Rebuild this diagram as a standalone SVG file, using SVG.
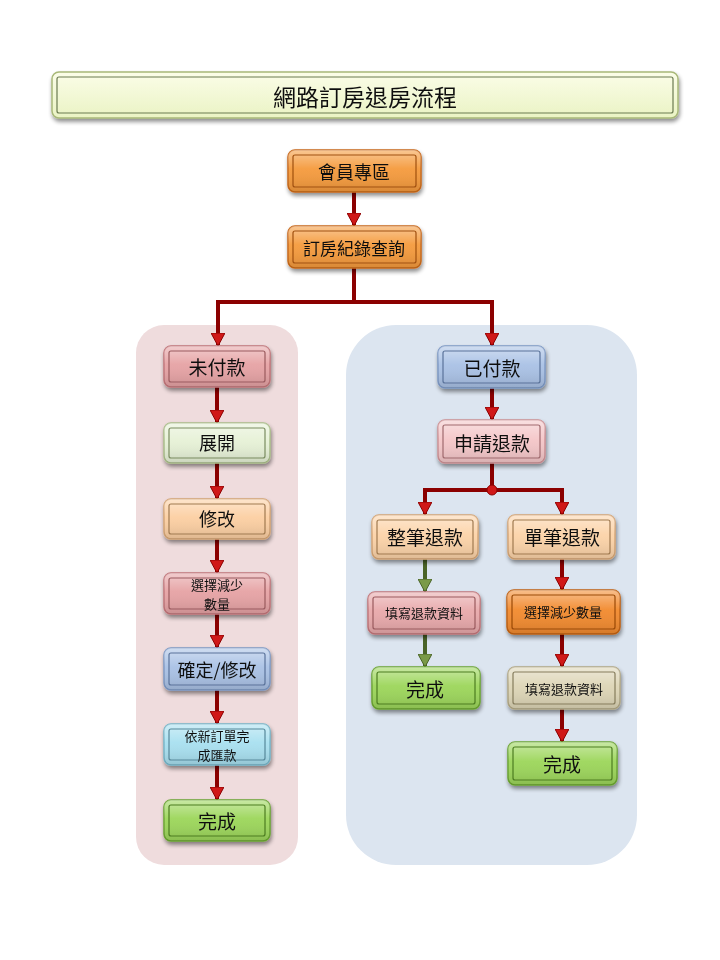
<svg xmlns="http://www.w3.org/2000/svg" width="720" height="960" viewBox="0 0 720 960">
<defs>
<filter id="sh" x="-20%" y="-20%" width="140%" height="150%">
<feGaussianBlur in="SourceAlpha" stdDeviation="2"/>
<feOffset dx="1" dy="3" result="b"/>
<feComponentTransfer><feFuncA type="linear" slope="0.45"/></feComponentTransfer>
<feMerge><feMergeNode/><feMergeNode in="SourceGraphic"/></feMerge>
</filter>
<linearGradient id="shine" x1="0" y1="0" x2="0" y2="1">
<stop offset="0" stop-color="#fff" stop-opacity="0.45"/>
<stop offset="0.45" stop-color="#fff" stop-opacity="0.05"/>
<stop offset="1" stop-color="#000" stop-opacity="0.12"/>
</linearGradient>
<linearGradient id="titleg" x1="0" y1="0" x2="0" y2="1">
<stop offset="0" stop-color="#fbfde8"/>
<stop offset="1" stop-color="#eaf3c4"/>
</linearGradient>
<marker id="ar" markerUnits="userSpaceOnUse" markerWidth="14" markerHeight="14" refX="12" refY="7" orient="auto">
<path d="M0,0 L13,7 L0,14 z" fill="#d01818" stroke="#8b0000" stroke-width="1"/>
</marker>
<marker id="ag" markerUnits="userSpaceOnUse" markerWidth="14" markerHeight="14" refX="12" refY="7" orient="auto">
<path d="M0,0 L13,7 L0,14 z" fill="#7a9a48" stroke="#4a6428" stroke-width="1"/>
</marker>
</defs>
<style>
text{font-family:"Noto Sans CJK TC","Noto Sans CJK SC",sans-serif;fill:#111;text-anchor:middle;dominant-baseline:central}
.b{stroke-width:1.5}
.i{fill:none;stroke-width:1.2}
.sh{fill:url(#shine)}
.cr{fill:none;stroke:#8b0000;stroke-width:4}
.cg{fill:none;stroke:#4a6428;stroke-width:4}
</style>
<rect width="720" height="960" fill="#fff"/>

<g id="title" filter="url(#sh)">
<rect x="52" y="72" width="626" height="46" rx="7" fill="url(#titleg)" stroke="#a8b878" stroke-width="1.5"/>
<rect x="57" y="77" width="616" height="36" rx="2" fill="none" stroke="#6a7a50" stroke-width="1.2"/>
<text x="365" y="96" font-size="23">網路訂房退房流程</text>
</g>

<g id="panels">
<rect x="136" y="325" width="162" height="540" rx="28" fill="#efdcdd"/>
<rect x="346" y="325" width="291" height="540" rx="50" fill="#dce5f0"/>
</g>

<g id="connectors">
<path class="cr" d="M354 192 V225" marker-end="url(#ar)"/>
<path class="cr" d="M354 268 V302 H218 V345" marker-end="url(#ar)"/>
<path class="cr" d="M354 302 H492 V345" marker-end="url(#ar)"/>
<path class="cr" d="M217 387 V422" marker-end="url(#ar)"/>
<path class="cr" d="M217 463 V498" marker-end="url(#ar)"/>
<path class="cr" d="M217 539 V572" marker-end="url(#ar)"/>
<path class="cr" d="M217 614 V647" marker-end="url(#ar)"/>
<path class="cr" d="M217 690 V723" marker-end="url(#ar)"/>
<path class="cr" d="M217 765 V799" marker-end="url(#ar)"/>
<path class="cr" d="M492 388 V419" marker-end="url(#ar)"/>
<path class="cr" d="M492 463 V490"/>
<path class="cr" d="M492 490 H425 V514" marker-end="url(#ar)"/>
<path class="cr" d="M492 490 H562 V514" marker-end="url(#ar)"/>
<circle cx="492" cy="490" r="5" fill="#d01818" stroke="#8b0000" stroke-width="1"/>
<path class="cg" d="M425 559 V591" marker-end="url(#ag)"/>
<path class="cg" d="M425 634 V666" marker-end="url(#ag)"/>
<path class="cr" d="M562 559 V589" marker-end="url(#ar)"/>
<path class="cr" d="M562 634 V666" marker-end="url(#ar)"/>
<path class="cr" d="M562 709 V741" marker-end="url(#ar)"/>
</g>

<g id="n-member" filter="url(#sh)">
<rect class="b" x="288" y="150" width="133" height="42" rx="7" fill="#f59a3c" stroke="#c86818"/>
<rect class="sh" x="288" y="150" width="133" height="42" rx="7"/>
<rect class="i" x="293" y="155" width="123" height="32" rx="2" stroke="#a05010"/>
<text x="354" y="171" font-size="18">會員專區</text>
</g>
<g id="n-query" filter="url(#sh)">
<rect class="b" x="288" y="226" width="133" height="42" rx="7" fill="#f59a3c" stroke="#c86818"/>
<rect class="sh" x="288" y="226" width="133" height="42" rx="7"/>
<rect class="i" x="293" y="231" width="123" height="32" rx="2" stroke="#a05010"/>
<text x="354" y="247" font-size="17">訂房紀錄查詢</text>
</g>

<g id="n-unpaid" filter="url(#sh)">
<rect class="b" x="164" y="346" width="106" height="41" rx="7" fill="#e6a2a4" stroke="#c07478"/>
<rect class="sh" x="164" y="346" width="106" height="41" rx="7"/>
<rect class="i" x="169" y="351" width="96" height="31" rx="2" stroke="#9a5a5e"/>
<text x="217" y="366" font-size="19">未付款</text>
</g>
<g id="n-expand" filter="url(#sh)">
<rect class="b" x="164" y="423" width="106" height="40" rx="7" fill="#e6f1d6" stroke="#a8bc88"/>
<rect class="sh" x="164" y="423" width="106" height="40" rx="7"/>
<rect class="i" x="169" y="428" width="96" height="30" rx="2" stroke="#7a8c60"/>
<text x="217" y="442" font-size="18">展開</text>
</g>
<g id="n-modify" filter="url(#sh)">
<rect class="b" x="164" y="499" width="106" height="40" rx="7" fill="#fccfa2" stroke="#d4a474"/>
<rect class="sh" x="164" y="499" width="106" height="40" rx="7"/>
<rect class="i" x="169" y="504" width="96" height="30" rx="2" stroke="#a07a50"/>
<text x="217" y="518" font-size="18">修改</text>
</g>
<g id="n-reduce" filter="url(#sh)">
<rect class="b" x="164" y="573" width="106" height="41" rx="7" fill="#e6a2a4" stroke="#c07478"/>
<rect class="sh" x="164" y="573" width="106" height="41" rx="7"/>
<rect class="i" x="169" y="578" width="96" height="31" rx="2" stroke="#9a5a5e"/>
<text x="217" y="584" font-size="13">選擇減少</text>
<text x="217" y="603" font-size="13">數量</text>
</g>
<g id="n-confirm" filter="url(#sh)">
<rect class="b" x="164" y="648" width="106" height="42" rx="7" fill="#a9c1e5" stroke="#7c98c4"/>
<rect class="sh" x="164" y="648" width="106" height="42" rx="7"/>
<rect class="i" x="169" y="653" width="96" height="32" rx="2" stroke="#5a729a"/>
<text x="217" y="669" font-size="18">確定/修改</text>
</g>
<g id="n-remit" filter="url(#sh)">
<rect class="b" x="164" y="724" width="106" height="41" rx="7" fill="#a8e0f0" stroke="#74b4c8"/>
<rect class="sh" x="164" y="724" width="106" height="41" rx="7"/>
<rect class="i" x="169" y="729" width="96" height="31" rx="2" stroke="#56889a"/>
<text x="217" y="735" font-size="13">依新訂單完</text>
<text x="217" y="754" font-size="13">成匯款</text>
</g>
<g id="n-done1" filter="url(#sh)">
<rect class="b" x="164" y="800" width="106" height="41" rx="7" fill="#9cd65a" stroke="#6aa430"/>
<rect class="sh" x="164" y="800" width="106" height="41" rx="7"/>
<rect class="i" x="169" y="805" width="96" height="31" rx="2" stroke="#4c7c20"/>
<text x="217" y="820" font-size="19">完成</text>
</g>

<g id="n-paid" filter="url(#sh)">
<rect class="b" x="438" y="346" width="107" height="42" rx="7" fill="#a9c1e5" stroke="#7c98c4"/>
<rect class="sh" x="438" y="346" width="107" height="42" rx="7"/>
<rect class="i" x="443" y="351" width="97" height="32" rx="2" stroke="#5a729a"/>
<text x="492" y="367" font-size="19">已付款</text>
</g>
<g id="n-apply" filter="url(#sh)">
<rect class="b" x="438" y="420" width="107" height="43" rx="7" fill="#f4c6c8" stroke="#cc9094"/>
<rect class="sh" x="438" y="420" width="107" height="43" rx="7"/>
<rect class="i" x="443" y="425" width="97" height="33" rx="2" stroke="#a06a6e"/>
<text x="492" y="442" font-size="19">申請退款</text>
</g>
<g id="n-full" filter="url(#sh)">
<rect class="b" x="372" y="515" width="106" height="44" rx="7" fill="#fcd3a8" stroke="#d4a474"/>
<rect class="sh" x="372" y="515" width="106" height="44" rx="7"/>
<rect class="i" x="377" y="520" width="96" height="34" rx="2" stroke="#a07a50"/>
<text x="425" y="536" font-size="19">整筆退款</text>
</g>
<g id="n-single" filter="url(#sh)">
<rect class="b" x="508" y="515" width="107" height="44" rx="7" fill="#fcd3a8" stroke="#d4a474"/>
<rect class="sh" x="508" y="515" width="107" height="44" rx="7"/>
<rect class="i" x="513" y="520" width="97" height="34" rx="2" stroke="#a07a50"/>
<text x="562" y="536" font-size="19">單筆退款</text>
</g>
<g id="n-fill1" filter="url(#sh)">
<rect class="b" x="368" y="592" width="112" height="42" rx="7" fill="#e8a8aa" stroke="#c07478"/>
<rect class="sh" x="368" y="592" width="112" height="42" rx="7"/>
<rect class="i" x="373" y="597" width="102" height="32" rx="2" stroke="#9a5a5e"/>
<text x="424" y="612" font-size="13">填寫退款資料</text>
</g>
<g id="n-reduce2" filter="url(#sh)">
<rect class="b" x="507" y="590" width="113" height="44" rx="7" fill="#f28a2e" stroke="#c06010"/>
<rect class="sh" x="507" y="590" width="113" height="44" rx="7"/>
<rect class="i" x="512" y="595" width="103" height="34" rx="2" stroke="#9a4a08"/>
<text x="563" y="611" font-size="13">選擇減少數量</text>
</g>
<g id="n-done2" filter="url(#sh)">
<rect class="b" x="372" y="667" width="108" height="42" rx="7" fill="#9cd65a" stroke="#6aa430"/>
<rect class="sh" x="372" y="667" width="108" height="42" rx="7"/>
<rect class="i" x="377" y="672" width="98" height="32" rx="2" stroke="#4c7c20"/>
<text x="425" y="688" font-size="19">完成</text>
</g>
<g id="n-fill2" filter="url(#sh)">
<rect class="b" x="508" y="667" width="112" height="42" rx="7" fill="#ddd5b6" stroke="#b0a684"/>
<rect class="sh" x="508" y="667" width="112" height="42" rx="7"/>
<rect class="i" x="513" y="672" width="102" height="32" rx="2" stroke="#857c5c"/>
<text x="564" y="688" font-size="13">填寫退款資料</text>
</g>
<g id="n-done3" filter="url(#sh)">
<rect class="b" x="508" y="742" width="109" height="43" rx="7" fill="#9cd65a" stroke="#6aa430"/>
<rect class="sh" x="508" y="742" width="109" height="43" rx="7"/>
<rect class="i" x="513" y="747" width="99" height="33" rx="2" stroke="#4c7c20"/>
<text x="562" y="763" font-size="19">完成</text>
</g>
</svg>
